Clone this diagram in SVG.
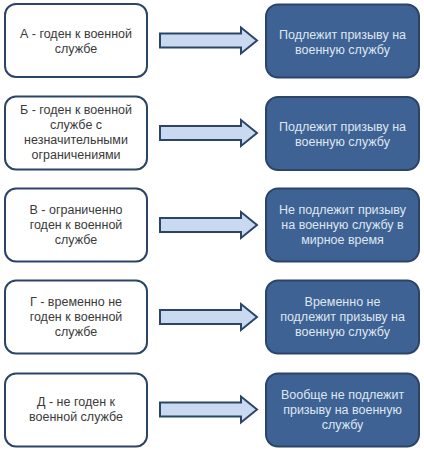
<svg xmlns="http://www.w3.org/2000/svg" width="424" height="451" viewBox="0 0 424 451">
<style>
.l{fill:#ffffff;stroke:#2c4468;stroke-width:2}
.r{fill:#3e6293;stroke:#2c4468;stroke-width:2}
.a{fill:#c9daf0;stroke:#2c4468;stroke-width:2;stroke-linejoin:miter}
text{font-family:"Liberation Sans",Arial,sans-serif;font-size:12.5px;text-anchor:middle}
.lt{fill:#3a3a3a}
.rt{fill:#dfe7f2}
</style>
<rect width="424" height="451" fill="#ffffff"/>
<g id="connectors">
<path class="a" d="M160,33.5 H241 V27.5 L257,40.5 L241,53.5 V47.5 H160 Z"/>
<path class="a" d="M160,126 H241 V120 L257,133 L241,146 V140 H160 Z"/>
<path class="a" d="M160,218 H241 V212 L257,225 L241,238 V232 H160 Z"/>
<path class="a" d="M160,310 H241 V304 L257,317 L241,330 V324 H160 Z"/>
<path class="a" d="M160,402.5 H241 V396.5 L257,409.5 L241,422.5 V416.5 H160 Z"/>
</g>
<g id="nodeA1"><rect class="l" x="5" y="4" width="142" height="73" rx="11"/>
<text class="lt" x="76" y="38">А - годен к военной</text><text class="lt" x="76" y="53">службе</text></g>
<g id="nodeA2"><rect class="r" x="266" y="4.5" width="153" height="73" rx="12"/>
<text class="rt" x="342.5" y="39">Подлежит призыву на</text><text class="rt" x="342.5" y="54">военную службу</text></g>
<g id="nodeB1"><rect class="l" x="5" y="96.5" width="142" height="73" rx="11"/>
<text class="lt" x="76" y="114">Б - годен к военной</text><text class="lt" x="76" y="129">службе с</text><text class="lt" x="76" y="144">незначительными</text><text class="lt" x="76" y="159">ограничениями</text></g>
<g id="nodeB2"><rect class="r" x="266" y="97" width="153" height="73" rx="12"/>
<text class="rt" x="342.5" y="131">Подлежит призыву на</text><text class="rt" x="342.5" y="146">военную службу</text></g>
<g id="nodeV1"><rect class="l" x="5" y="188.5" width="142" height="73" rx="11"/>
<text class="lt" x="76" y="214">В - ограниченно</text><text class="lt" x="76" y="229">годен к военной</text><text class="lt" x="76" y="244">службе</text></g>
<g id="nodeV2"><rect class="r" x="266" y="188.5" width="153" height="73" rx="12"/>
<text class="rt" x="342.5" y="214">Не подлежит призыву</text><text class="rt" x="342.5" y="229">на военную службу в</text><text class="rt" x="342.5" y="244">мирное время</text></g>
<g id="nodeG1"><rect class="l" x="5" y="280.5" width="142" height="73" rx="11"/>
<text class="lt" x="76" y="306">Г - временно не</text><text class="lt" x="76" y="321">годен к военной</text><text class="lt" x="76" y="336">службе</text></g>
<g id="nodeG2"><rect class="r" x="266" y="280.5" width="153" height="73" rx="12"/>
<text class="rt" x="342.5" y="306">Временно не</text><text class="rt" x="342.5" y="321">подлежит призыву на</text><text class="rt" x="342.5" y="336">военную службу</text></g>
<g id="nodeD1"><rect class="l" x="5" y="373.5" width="142" height="73" rx="11"/>
<text class="lt" x="76" y="406">Д - не годен к</text><text class="lt" x="76" y="421">военной службе</text></g>
<g id="nodeD2"><rect class="r" x="266" y="373.5" width="153" height="73" rx="12"/>
<text class="rt" x="342.5" y="399">Вообще не подлежит</text><text class="rt" x="342.5" y="414">призыву на военную</text><text class="rt" x="342.5" y="429">службу</text></g>
</svg>
